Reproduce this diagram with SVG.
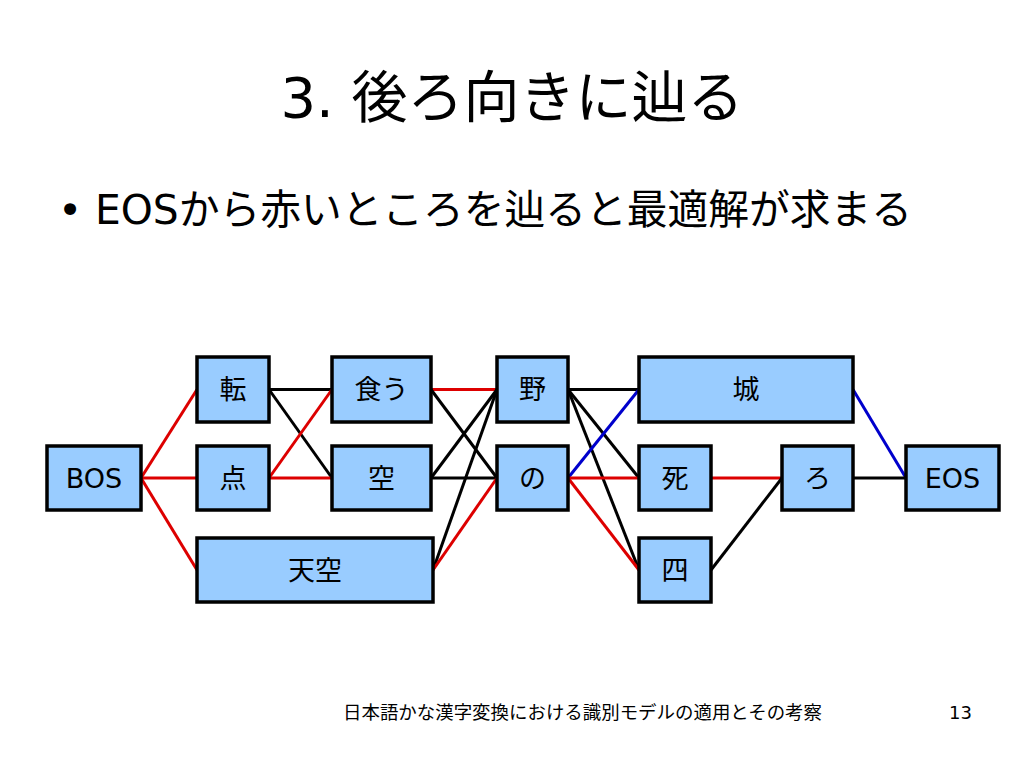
<svg xmlns="http://www.w3.org/2000/svg" width="1024" height="768" viewBox="0 0 1024 768">
<style>
text{font-family:"DejaVu Sans","Noto Sans CJK JP",sans-serif;fill:#000}
.box{fill:#99ccff;stroke:#000;stroke-width:3.5}
.lbl{font-size:27px;text-anchor:middle;dominant-baseline:central}
.e{stroke-width:3;fill:none}
.k{stroke:#000}
.r{stroke:#dd0000}
.b{stroke:#0000cc}
</style>
<rect width="1024" height="768" fill="#fff"/>
<text x="512" y="117" font-size="56" text-anchor="middle">3. 後ろ向きに辿る</text>
<text x="58" y="224" font-size="41">•</text>
<text x="95" y="224" font-size="41" textLength="817" lengthAdjust="spacingAndGlyphs">EOSから赤いところを辿ると最適解が求まる</text>
<text x="343" y="719" font-size="18" textLength="479" lengthAdjust="spacingAndGlyphs">日本語かな漢字変換における識別モデルの適用とその考察</text>
<text x="972" y="719" font-size="18" text-anchor="end">13</text>
<g id="connectors">
<line class="e r" x1="141" y1="478" x2="197" y2="389.5"/>
<line class="e r" x1="141" y1="478" x2="197" y2="478"/>
<line class="e r" x1="141" y1="478" x2="197" y2="570"/>
<line class="e k" x1="269" y1="389.5" x2="332" y2="389.5"/>
<line class="e k" x1="269" y1="389.5" x2="332" y2="478"/>
<line class="e r" x1="269" y1="478" x2="332" y2="389.5"/>
<line class="e r" x1="269" y1="478" x2="332" y2="478"/>
<line class="e r" x1="431" y1="389.5" x2="497" y2="389.5"/>
<line class="e k" x1="431" y1="389.5" x2="497" y2="478"/>
<line class="e k" x1="431" y1="478" x2="497" y2="389.5"/>
<line class="e k" x1="431" y1="478" x2="497" y2="478"/>
<line class="e k" x1="433" y1="570" x2="497" y2="389.5"/>
<line class="e r" x1="433" y1="570" x2="497" y2="478"/>
<line class="e k" x1="568" y1="389.5" x2="639" y2="389.5"/>
<line class="e k" x1="568" y1="389.5" x2="639" y2="478"/>
<line class="e k" x1="568" y1="389.5" x2="639" y2="570"/>
<line class="e b" x1="568" y1="478" x2="639" y2="389.5"/>
<line class="e r" x1="568" y1="478" x2="639" y2="478"/>
<line class="e r" x1="568" y1="478" x2="639" y2="570"/>
<line class="e b" x1="853" y1="389.5" x2="906" y2="478"/>
<line class="e r" x1="711" y1="478" x2="782" y2="478"/>
<line class="e k" x1="711" y1="570" x2="782" y2="478"/>
<line class="e k" x1="853" y1="478" x2="906" y2="478"/>
</g>
<g id="n-bos"><rect class="box" x="47" y="446" width="94" height="64"/><text class="lbl" x="94" y="478">BOS</text></g>
<g id="n-ten"><rect class="box" x="197" y="357" width="72" height="65"/><text class="lbl" x="233" y="389.5">転</text></g>
<g id="n-ten2"><rect class="box" x="197" y="446" width="72" height="64"/><text class="lbl" x="233" y="478">点</text></g>
<g id="n-tenku"><rect class="box" x="197" y="538" width="236" height="64"/><text class="lbl" x="315" y="570">天空</text></g>
<g id="n-kuu"><rect class="box" x="332" y="357" width="99" height="65"/><text class="lbl" x="381.5" y="389.5">食う</text></g>
<g id="n-sora"><rect class="box" x="332" y="446" width="99" height="64"/><text class="lbl" x="381.5" y="478">空</text></g>
<g id="n-no1"><rect class="box" x="497" y="357" width="71" height="65"/><text class="lbl" x="532.5" y="389.5">野</text></g>
<g id="n-no2"><rect class="box" x="497" y="446" width="71" height="64"/><text class="lbl" x="532.5" y="478">の</text></g>
<g id="n-shiro"><rect class="box" x="639" y="357" width="214" height="65"/><text class="lbl" x="746" y="389.5">城</text></g>
<g id="n-shi"><rect class="box" x="639" y="446" width="72" height="64"/><text class="lbl" x="675" y="478">死</text></g>
<g id="n-yon"><rect class="box" x="639" y="538" width="72" height="64"/><text class="lbl" x="675" y="570">四</text></g>
<g id="n-ro"><rect class="box" x="782" y="446" width="71" height="64"/><text class="lbl" x="817.5" y="478">ろ</text></g>
<g id="n-eos"><rect class="box" x="906" y="446" width="93" height="64"/><text class="lbl" x="952.5" y="478">EOS</text></g>
</svg>
